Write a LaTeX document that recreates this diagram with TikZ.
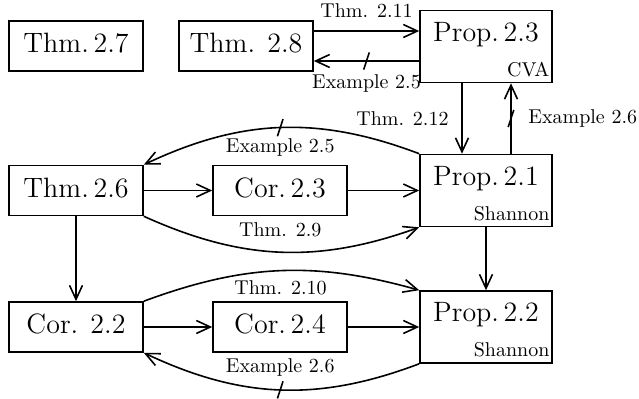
\documentclass[tikz,border=0pt]{standalone}
\usepackage{tikz}
\usetikzlibrary{arrows.meta,positioning}

\tikzset{
  resbox/.style={draw, line width=0.8pt, minimum width=67pt, minimum height=25pt,
    text depth=3pt, font=\fontsize{14}{17}\selectfont},
  propbox/.style={draw, line width=0.8pt, minimum width=66pt, minimum height=36pt},
  title/.style={font=\fontsize{14}{17}\selectfont},
  tagtext/.style={anchor=south east, inner xsep=1.5pt, inner ysep=3pt, font=\normalsize},
  lbl/.style={font=\normalsize},
  imp/.style={-{Straight Barb[length=7pt,width=6.5pt]}, line width=0.8pt},
}
% short stroke across an arrow
\newcommand{\crossat}[1]{\draw[line width=0.8pt] ([shift={(-1.4pt,-4.3pt)}]#1) -- ([shift={(1.4pt,4.3pt)}]#1);}

\begin{document}
\begin{tikzpicture}[x=0.5pt, y=0.5pt]
	\useasboundingbox (0,0) rectangle (639,398);
	%\draw[help lines,step=20] (0,0) grid (639,398);

	% top row
	\node[resbox] (t27) at (76,352) {Thm.\,2.7};
	\node[resbox] (t28) at (246,352) {Thm. 2.8};
	\node[propbox] (p23) at (486,351.5) {};
	\node[title, below=2.6pt of p23.north] (p23name) {Prop.\,2.3};
	\node[tagtext] (p23tag) at (p23.south east) {CVA};

	% middle row
	\node[resbox] (t26) at (76,207.5) {Thm.\,2.6};
	\node[resbox] (c23) at (280,207.5) {Cor.\,2.3};
	\node[propbox] (p21) at (486,207.5) {};
	\node[title, below=2.6pt of p21.north] (p21name) {Prop.\,2.1};
	\node[tagtext] (p21tag) at (p21.south east) {Shannon};

	% bottom row
	\node[resbox] (c22) at (76,71) {Cor. 2.2};
	\node[resbox] (c24) at (280,71) {Cor.\,2.4};
	\node[propbox] (p22) at (486,71) {};
	\node[title, below=2.6pt of p22.north] (p22name) {Prop.\,2.2};
	\node[tagtext] (p22tag) at (p22.south east) {Shannon};

	% arrows between Thm. 2.8 and Prop. 2.3
	\draw[imp] ([yshift=7.5pt]t28.east) -- node[lbl, above=3pt, midway] (l211) {Thm. 2.11} ([yshift=7.5pt]t28.east -| p23.west);
	\draw[imp] ([yshift=-7.5pt]t28.east -| p23.west) -- node[coordinate, midway] (x1) {} node[lbl, below=3pt, midway] (l25a) {Example 2.5} ([yshift=-7.5pt]t28.east);
	\crossat{x1}

	% arrows between Prop. 2.3 and Prop. 2.1
	\draw[imp] ([xshift=-12pt]p23.south) -- node[lbl, left=3pt, midway] (l212) {Thm. 2.12} ([xshift=-12pt]p21.north);
	\draw[imp] ([xshift=12.5pt]p21.north) -- node[coordinate, midway] (x2) {} node[lbl, right=5pt, midway] (l26a) {Example 2.6} ([xshift=12.5pt]p23.south);
	\crossat{x2}

	% middle row
	\draw[imp] (t26) -- (c23);
	\draw[imp] (c23) -- (p21);
	\draw[imp] (p21.north west) to[bend right=23] node[coordinate, midway] (x3) {} node[lbl, below=2pt, midway] (l25b) {Example 2.5} (t26.north east);
	\crossat{x3}
	\draw[imp] (t26.south east) to[bend right=22] node[lbl, above=4pt, midway] (l29) {Thm. 2.9} (p21.south west);

	% downwards
	\draw[imp] (t26) -- (c22);
	\draw[imp] (p21) -- (p22);

	% bottom row
	\draw[imp] (c22) -- (c24);
	\draw[imp] (c24) -- (p22);
	\draw[imp] (c22.north east) to[bend left=18] node[lbl, below=1pt, midway] (l210) {Thm. 2.10} (p22.north west);
	\draw[imp] (p22.south west) to[bend left=23] node[coordinate, midway] (x4) {} node[lbl, above=3pt, midway] (l26b) {Example 2.6} (c22.south east);
	\crossat{x4}
\end{tikzpicture}
\end{document}
